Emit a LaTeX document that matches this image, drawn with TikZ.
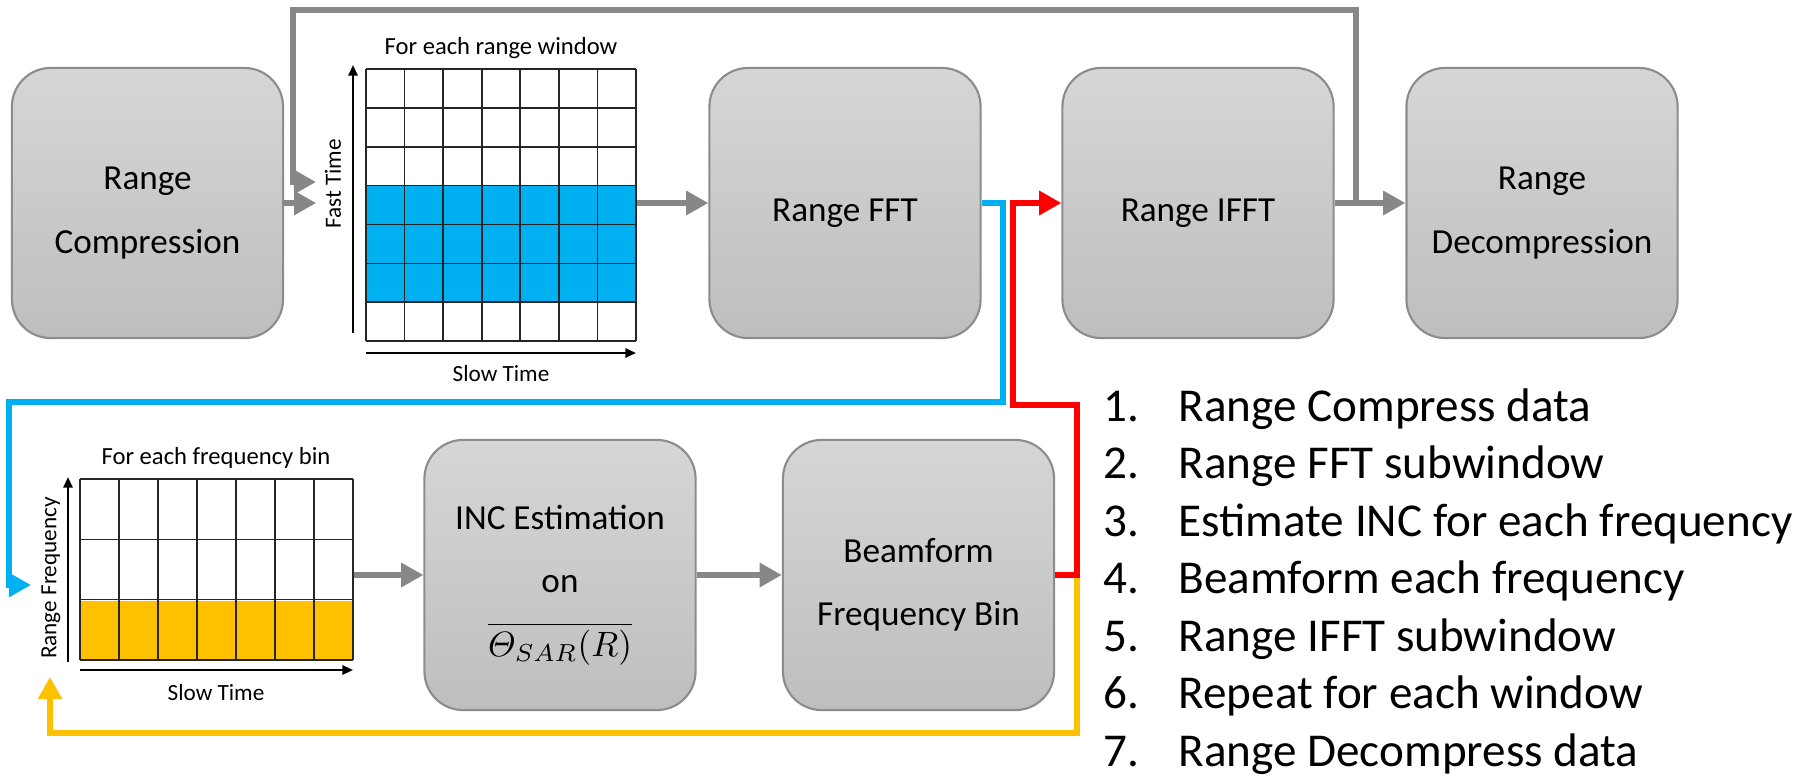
\documentclass[tikz,border=0pt]{standalone}
\usepackage{fontspec}
\setmainfont{Carlito}
\usepackage{amsmath}
\usetikzlibrary{arrows.meta,calc}
\definecolor{boxtop}{RGB}{214,214,214}
\definecolor{boxbot}{RGB}{190,190,190}
\definecolor{boxline}{RGB}{140,140,140}
\definecolor{flowgrey}{RGB}{135,135,135}
\definecolor{fftblue}{RGB}{0,176,240}
\definecolor{incyellow}{RGB}{255,192,0}
\definecolor{beamred}{RGB}{255,0,0}
\tikzset{
	procbox/.style={rectangle, rounded corners=11pt, draw=boxline, line width=0.6pt, top color=boxtop, bottom color=boxbot, minimum width=2.71cm, minimum height=2.7cm},
	boxtext/.style={align=center, text=black, yshift=-0.1cm, font=\fontsize{10}{18}\selectfont},
	gridarea/.style={rectangle, inner sep=0pt},
	flow/.style={line width=1.9pt, -{Triangle[length=6.3pt,width=6.6pt]}},
	cell/.style={line width=0.45pt, black!85},
	axis/.style={line width=0.6pt, -{Triangle[length=3pt,width=2.6pt]}},
	gridtitle/.style={font=\fontsize{7}{8}\selectfont},
	axislabel/.style={font=\fontsize{6.6}{8}\selectfont},
	steptext/.style={anchor=base west, inner sep=0pt, font=\fontsize{13.4}{16}\selectfont},
}

\begin{document}
\begin{tikzpicture}[x=0.01cm, y=-0.01cm]
			%%%%% START %%%%%
			\useasboundingbox (0,0) rectangle (1810,775);
			
			% processing blocks
			\node[procbox] (rc) at (147.5,203) {};
			\node[procbox] (fft) at (845,203) {};
			\node[procbox] (ifft) at (1198,203) {};
			\node[procbox] (rd) at (1542,203) {};
			\node[procbox] (inc) at (560,575) {};
			\node[procbox] (bf) at (918.5,575) {};
			\node[boxtext] (rctext) at (rc) {Range\\Compression};
			\node[boxtext] (ffttext) at (fft) {Range FFT};
			\node[boxtext] (iffttext) at (ifft) {Range IFFT};
			\node[boxtext] (rdtext) at (rd) {Range\\Decompression};
			\node[boxtext] (inctext) at (inc) {INC Estimation\\on\\$\overline{\varTheta_{SAR}(R)}$};
			\node[boxtext] (bftext) at (bf) {Beamform\\Frequency Bin};
			
			% range window grid
			\node[gridarea, minimum width=3.19cm, minimum height=2.72cm] (g1) at (476.5,205) {};
			\fill[fftblue] (366,185.6) rectangle (636,302.2);
			\foreach \i in {0,...,7}
				\draw[cell] ({366+\i*38.57},69) -- ({366+\i*38.57},341);
			\foreach \j in {0,...,7}
				\draw[cell] (366,{69+\j*38.86}) -- (636,{69+\j*38.86});
			\draw[axis] (353,333) -- (353,65);
			\draw[axis] (366,353) -- (636,353);
			\node[gridtitle] (g1title) at (501,48) {For each range window};
			\node[axislabel, rotate=90] (g1fast) at (333,184) {Fast Time};
			\node[axislabel] (g1slow) at (501,374) {Slow Time};
			
			% frequency bin grid
			\node[gridarea, minimum width=3.23cm, minimum height=1.81cm] (g2) at (191.5,569.5) {};
			\fill[incyellow] (80,600.7) rectangle (353,660);
			\foreach \i in {0,...,7}
				\draw[cell] ({80+\i*39},479) -- ({80+\i*39},660);
			\foreach \j in {0,...,3}
				\draw[cell] (80,{479+\j*60.33}) -- (353,{479+\j*60.33});
			\draw[axis] (68,662) -- (68,477);
			\draw[axis] (80,670) -- (353,670);
			\node[gridtitle] (g2title) at (216,458) {For each frequency bin};
			\node[axislabel, rotate=90] (g2freq) at (51,578) {Range Frequency};
			\node[axislabel] (g2slow) at (216,693) {Slow Time};
			
			% main flow
			\draw[flow, flowgrey] (rc.east) -- (rc.east -| g1.west);
			\draw[flow, flowgrey] (fft.west -| g1.east) -- (fft.west);
			\draw[flow, flowgrey] (ifft.east) -- (rd.west);
			\draw[flow, flowgrey] (inc.west -| g2.east) -- (inc.west);
			\draw[flow, flowgrey] (inc.east) -- (bf.west);
			
			% loops
			\coordinate (greyin) at (316,182);
			\coordinate (bluein) at (31,585);
			\coordinate (yellowin) at (50,677);
			\coordinate (fork) at (1077,575);
			\draw[flow, flowgrey] ($(ifft.east)!0.3!(rd.west)$) -- ++(0,-193) -| (293,182) -- (greyin);
			\draw[flow, fftblue, line width=1.8pt] (fft.east) -| (1003,402) -| (9,585) -- (bluein);
			\draw[flow, incyellow, line width=1.8pt] (fork) |- (50,733) -- (yellowin);
			\draw[flow, beamred, line width=1.8pt] (bf.east) -- (fork) |- (1013,405) |- (ifft.west);
			
			% step list
			\foreach \n/\t in {1/Range Compress data, 2/Range FFT subwindow, 3/Estimate INC for each frequency, 4/Beamform each frequency, 5/Range IFFT subwindow, 6/Repeat for each window, 7/Range Decompress data}{
				\node[steptext] (num\n) at (1103,{421+(\n-1)*57.5}) {\n.};
				\node[steptext] (step\n) at (1178,{421+(\n-1)*57.5}) {\t};
			}
			%%%%% END %%%%%
\end{tikzpicture}
\end{document}
